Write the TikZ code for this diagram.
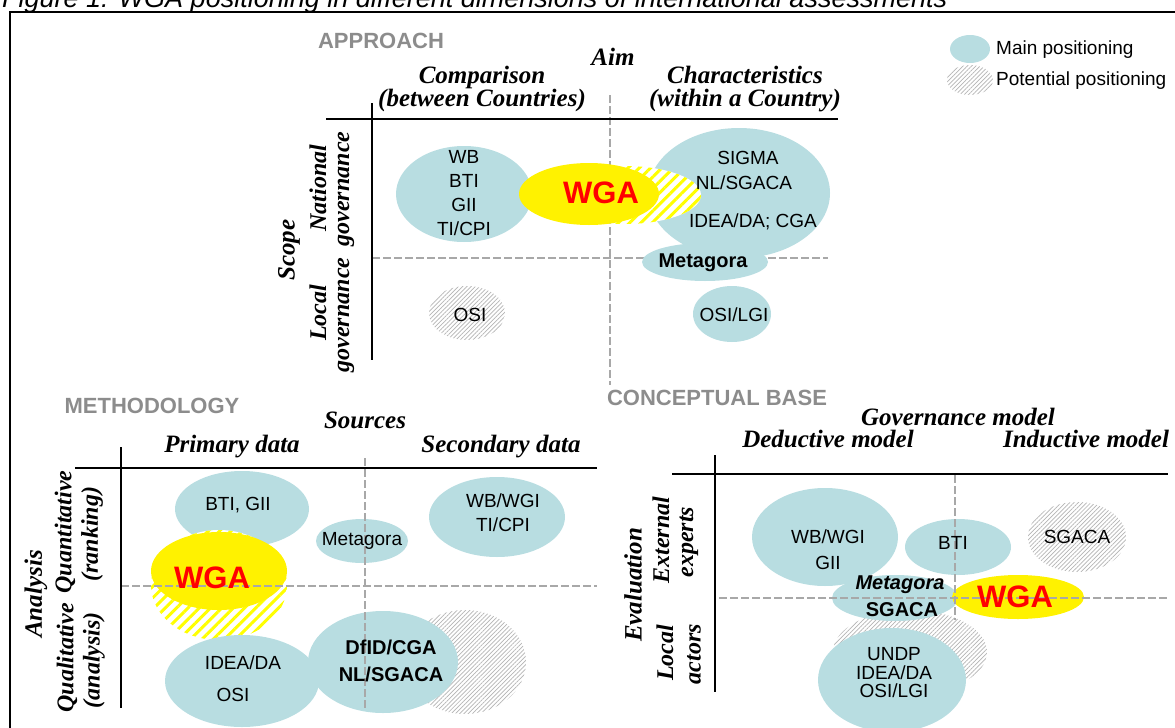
\documentclass[tikz,border=0pt]{standalone}
\usepackage{fontspec}
\setmainfont{Liberation Serif}
\setsansfont{Liberation Sans}
\usetikzlibrary{shapes, patterns.meta}

\definecolor{bubble}{HTML}{B8DDE1}
\definecolor{hatch}{HTML}{B4B4B4}
\definecolor{titlegray}{HTML}{8C8C8C}
\definecolor{splitgray}{HTML}{A8A8A8}

\tikzset{
    main/.style={ellipse, fill=bubble, inner sep=0pt},
    potential/.style={ellipse, inner sep=0pt, preaction={fill=white},
        pattern={Lines[angle=45, distance=3pt, line width=0.7pt]}, pattern color=hatch},
    wgamain/.style={ellipse, fill=yellow, inner sep=0pt},
    wgapotential/.style={ellipse, inner sep=0pt, preaction={fill=white},
        pattern={Lines[angle=45, distance=8pt, line width=3pt]}, pattern color=yellow},
    entry/.style={font=\fontsize{19}{24}\selectfont\sffamily, align=center, inner sep=0pt},
    boldentry/.style={font=\fontsize{20}{27}\selectfont\sffamily\bfseries, align=center, inner sep=0pt},
    wgatext/.style={font=\fontsize{31}{31}\selectfont\sffamily\bfseries, text=red, inner sep=0pt},
    paneltitle/.style={font=\fontsize{22}{22}\selectfont\sffamily\bfseries, text=titlegray, inner sep=0pt},
    dimtitle/.style={font=\fontsize{25}{25}\selectfont\bfseries\itshape, inner sep=0pt},
    colhead/.style={font=\fontsize{25}{23}\selectfont\bfseries\itshape, align=center, inner sep=0pt},
    rowhead/.style={font=\fontsize{24}{24}\selectfont\bfseries\itshape, inner sep=0pt, rotate=90},
    mainline/.style={line width=2.5pt},
    splitline/.style={splitgray, line width=1.5pt, dash pattern=on 8pt off 3pt},
}

\begin{document}
\begin{tikzpicture}[x=1pt, y=-1pt]
        \useasboundingbox (0, 0) rectangle (1175, 728);

        \node [anchor=base west, inner sep=0pt, font=\fontsize{27}{27}\selectfont\sffamily\itshape] (F0) at (2, 8) {Figure 1: WGA positioning in different dimensions of international assessments};
        \draw [line width=1.5pt] (10, 728) -- (10, 12) -- (1175, 12);

        \node [main, minimum width=40pt, minimum height=28pt] (L1) at (970, 49) {};
        \node [potential, minimum width=46pt, minimum height=30pt] (L2) at (970, 80) {};
        \node [entry, anchor=west] (L3) at (996, 50) {Main positioning};
        \node [entry, anchor=west] (L4) at (996, 81) {Potential positioning};

        % approach
        \draw [splitline] (610, 95) -- (610, 385);
        \draw [splitline] (372, 258) -- (828, 258);
        \draw [mainline] (326, 119) -- (838, 119);
        \draw [mainline, line width=2pt] (372, 103) -- (372, 360);

        \node [main, minimum width=182pt, minimum height=130pt] (A1) at (739, 193) {};
        \node [main, minimum width=126pt, minimum height=38pt] (A2) at (705, 262) {};
        \node [wgapotential, minimum width=152pt, minimum height=58pt] (A3) at (625, 195) {};
        \node [main, minimum width=136pt, minimum height=96pt] (A4) at (464, 194) {};
        \node [wgamain, minimum width=140pt, minimum height=62pt] (A5) at (589, 194) {};
        \node [potential, minimum width=76pt, minimum height=54pt] (A6) at (467, 313) {};
        \node [main, minimum width=78pt, minimum height=56pt] (A7) at (732, 314) {};

        \node [entry] (A8) at (464, 193) {WB\\BTI\\GII\\TI/CPI};
        \node [entry] (A9) at (748, 158) {SIGMA};
        \node [entry] (A11) at (744, 183) {NL/SGACA};
        \node [entry] (A12) at (753, 222) {IDEA/DA; CGA};
        \node [boldentry] (A13) at (703, 263) {Metagora};
        \node [wgatext] (A14) at (601, 193) {WGA};
        \node [entry] (A15) at (470, 315) {OSI};
        \node [entry] (A16) at (734, 315) {OSI/LGI};

        \node [paneltitle] (A0) at (381, 41) {APPROACH};
        \node [dimtitle] (A10) at (613, 57) {Aim};
        \node [colhead] (A17) at (482, 89) {Comparison\\(between Countries)};
        \node [colhead] (A19) at (745, 89) {Characteristics\\(within a Country)};
        \node [dimtitle, rotate=90] (A21) at (289, 250) {Scope};
        \node [rowhead] (A22) at (318, 188) {National};
        \node [rowhead] (A23) at (346, 189) {governance};
        \node [rowhead] (A24) at (318, 313) {Local};
        \node [rowhead] (A25) at (346, 315) {governance};

        % methodology
        \node [main, minimum width=134pt, minimum height=76pt] (M4) at (242, 509) {};
        \node [wgapotential, minimum width=136pt, minimum height=110pt] (M5) at (219, 585) {};
        \node [wgamain, minimum width=136pt, minimum height=78pt] (M6) at (219, 571) {};
        \node [main, minimum width=92pt, minimum height=44pt] (M7) at (362, 541) {};
        \node [main, minimum width=136pt, minimum height=80pt] (M8) at (497, 517) {};
        \node [potential, minimum width=122pt, minimum height=104pt] (M9) at (465, 662) {};
        \node [main, minimum width=154pt, minimum height=92pt] (M10) at (242, 681) {};
        \node [main, minimum width=150pt, minimum height=102pt] (M11) at (383, 662) {};

        \draw [splitline] (365, 458) -- (365, 710);
        \draw [splitline] (121, 586) -- (597, 586);
        \draw [mainline] (75, 468) -- (597, 468);
        \draw [mainline, line width=2pt] (121, 447) -- (121, 708);

        \node [entry] (M12) at (238, 505) {BTI, GII};
        \node [wgatext] (M13) at (212, 578) {WGA};
        \node [entry] (M14) at (362, 541) {Metagora};
        \node [entry] (M15) at (503, 513) {WB/WGI\\TI/CPI};
        \node [entry] (M16) at (243, 663) {IDEA/DA};
        \node [entry] (M17) at (233, 695) {OSI};
        \node [boldentry] (M18) at (391, 661) {DfID/CGA\\NL/SGACA};

        \node [paneltitle] (M0) at (152, 406) {METHODOLOGY};
        \node [dimtitle] (M1) at (365, 420) {Sources};
        \node [colhead] (M2) at (232, 447) {Primary data};
        \node [colhead] (M3) at (501, 447) {Secondary data};
        \node [dimtitle, rotate=90] (M19) at (36, 594) {Analysis};
        \node [rowhead] (M20) at (65, 532) {Quantitative};
        \node [rowhead] (M21) at (92, 534) {(ranking)};
        \node [rowhead] (M22) at (67, 658) {Qualitative};
        \node [rowhead] (M23) at (94, 660) {(analysis)};

        % conceptual base
        \node [main, minimum width=146pt, minimum height=98pt] (C4) at (825, 537) {};
        \node [main, minimum width=106pt, minimum height=56pt] (C5) at (958, 547) {};
        \node [potential, minimum width=98pt, minimum height=70pt] (C6) at (1077, 537) {};
        \node [potential, minimum width=154pt, minimum height=84pt] (C7) at (910, 652) {};
        \node [main, minimum width=148pt, minimum height=104pt] (C8) at (892, 680) {};
        \node [main, minimum width=126pt, minimum height=46pt] (C9) at (895, 598) {};
        \node [wgamain, minimum width=132pt, minimum height=44pt] (C10) at (1018, 597) {};

        \draw [splitline] (955, 475) -- (955, 620);
        \draw [splitline] (719, 598) -- (1168, 598);
        \draw [mainline] (672, 474) -- (1168, 474);
        \draw [mainline, line width=2pt] (715, 455) -- (715, 692);

        \node [entry, font=\fontsize{19}{26}\selectfont\sffamily] (C11) at (828, 550) {WB/WGI\\GII};
        \node [entry] (C12) at (953, 543) {BTI};
        \node [entry] (C13) at (1077, 537) {SGACA};
        \node [boldentry, font=\fontsize{20}{24}\selectfont\sffamily\bfseries\itshape] (C14) at (900, 585) {Metagora};
        \node [boldentry] (C15) at (902, 610) {SGACA};
        \node [wgatext] (C16) at (1015, 597) {WGA};
        \node [entry, font=\fontsize{19}{18.5}\selectfont\sffamily] (C17) at (894, 673) {UNDP\\IDEA/DA\\OSI/LGI};

        \node [paneltitle] (C0) at (717, 398) {CONCEPTUAL BASE};
        \node [dimtitle] (C1) at (958, 417) {Governance model};
        \node [colhead] (C2) at (828, 439) {Deductive model};
        \node [colhead] (C3) at (1086, 439) {Inductive model};
        \node [dimtitle, rotate=90] (C20) at (633, 585) {Evaluation};
        \node [rowhead] (C21) at (661, 540) {External};
        \node [rowhead] (C22) at (689, 542) {experts};
        \node [rowhead] (C23) at (665, 653) {Local};
        \node [rowhead] (C24) at (694, 654) {actors};
\end{tikzpicture}
\end{document}
